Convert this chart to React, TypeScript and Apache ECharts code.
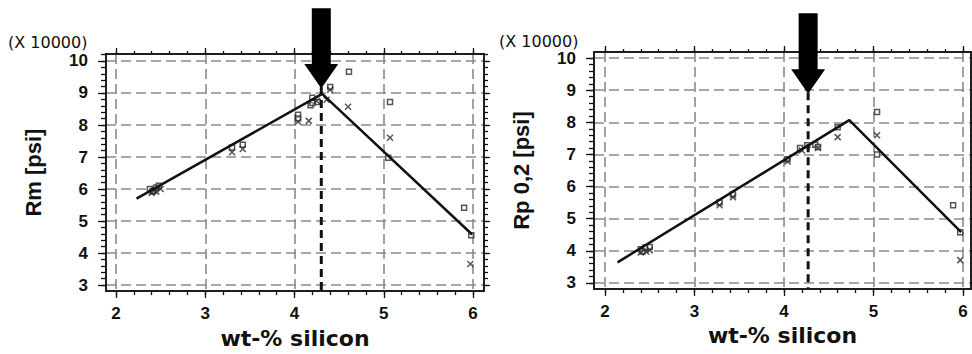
import React, { useEffect, useRef } from "react";
import * as echarts from "echarts";

// Tick values shared by both panels
const X_TICKS = [2, 3, 4, 5, 6];
const Y_TICKS = [3, 4, 5, 6, 7, 8, 9, 10];

// Tensile strength Rm (x 10000 psi) versus silicon content
const RM_SQUARES: [number, number][] = [
  [2.38, 6.0], [2.42, 5.95], [2.45, 6.05], [2.48, 6.1], [2.41, 5.92],
  [3.3, 7.3], [3.42, 7.38], [4.04, 8.32], [4.04, 8.2], [4.18, 8.62],
  [4.2, 8.85], [4.2, 8.69], [4.26, 8.72], [4.4, 9.19], [4.61, 9.66],
  [5.07, 8.72], [5.05, 6.98], [5.9, 5.42], [5.98, 4.56],
];
const RM_CROSSES: [number, number][] = [
  [2.4, 5.88], [2.45, 5.92], [2.5, 6.0], [3.3, 7.15], [3.42, 7.25],
  [4.04, 8.1], [4.16, 8.13], [4.25, 8.75], [4.36, 8.79], [4.4, 9.1],
  [4.6, 8.57], [5.07, 7.6], [5.97, 3.66],
];
const RM_FIT: [number, number][] = [[2.23, 5.7], [4.31, 8.97], [5.99, 4.58]];

// Yield strength Rp 0,2 (x 10000 psi) versus silicon content
const RP_SQUARES: [number, number][] = [
  [2.4, 4.05], [2.45, 4.1], [2.5, 4.12], [2.42, 3.98],
  [3.28, 5.5], [3.43, 5.75], [4.04, 6.85], [4.18, 7.2], [4.26, 7.29],
  [4.35, 7.3], [4.38, 7.23], [4.6, 7.85], [5.04, 8.32], [5.04, 7.0],
  [5.89, 5.42], [5.97, 4.58],
];
const RP_CROSSES: [number, number][] = [
  [2.4, 3.95], [2.46, 3.98], [2.5, 4.02], [3.28, 5.42], [3.43, 5.67],
  [4.04, 6.78], [4.2, 7.12], [4.38, 7.2], [4.6, 7.54], [5.04, 7.6],
  [5.97, 3.71],
];
const RP_FIT: [number, number][] = [[2.14, 3.64], [4.73, 8.07], [5.98, 4.58]];

// Silicon content flagged by the arrow and the dashed marker
const MARKER_SI = [4.3, 4.27];
const ARROW_TIP = [9.19, 8.94];
const ARROW_TOP = [11.65, 11.4];

const Y_TITLES = ["Rm [psi]", "Rp 0,2 [psi]"];
const X_TITLE = "wt-% silicon";
const SCALE_NOTE = "(X 10000)";

const SQUARES = [RM_SQUARES, RP_SQUARES];
const CROSSES = [RM_CROSSES, RP_CROSSES];
const FITS = [RM_FIT, RP_FIT];

const PANELS = [
  { left: 106, top: 54, width: 378, height: 238, xMin: 1.888, xMax: 6.123, yMin: 2.813, yMax: 10.218, noteX: 8, noteY: 34 },
  { left: 594, top: 52, width: 377, height: 237, xMin: 1.877, xMax: 6.09, yMin: 2.81, yMax: 10.19, noteX: 499, noteY: 33 },
];

const INK = "#111";
const GRID_GRAY = "#8a8a8a";
const POINT_GRAY = "#2a2a2a";

function steps(from: number, to: number, step: number): number[] {
  const out: number[] = [];
  const n = Math.round((to - from) / step);
  for (let i = 0; i <= n; i++) out.push(Math.round((from + i * step) * 100) / 100);
  return out;
}

const tickFont = { fontFamily: "Liberation Sans", fontWeight: "bold" as const, fontSize: 17, color: INK };

function buildAxes(g: number, p: (typeof PANELS)[number]) {
  const xMinor = steps(1.8, 6.2, 0.2).filter((v) => v >= p.xMin && v <= p.xMax);
  const yMinor = steps(2.8, 10.4, 0.2).filter((v) => v >= p.yMin && v <= p.yMax);
  const line = { show: true, onZero: false, lineStyle: { color: INK, width: 1.5 } };
  const dashed = { show: true, lineStyle: { type: [10, 5], color: GRID_GRAY, width: 1.6 } };
  const baseX = { gridIndex: g, type: "value" as const, min: p.xMin, max: p.xMax, axisLine: line, splitLine: { show: false }, axisLabel: { show: false } };
  const baseY = { gridIndex: g, type: "value" as const, min: p.yMin, max: p.yMax, axisLine: line, splitLine: { show: false }, axisLabel: { show: false } };
  const tick = (values: number[], length: number) => ({ show: true, customValues: values, length, lineStyle: { color: INK, width: 1.3 } });
  const xAxis = [
    {
      ...baseX, position: "bottom", axisTick: tick(X_TICKS, 7), splitLine: dashed,
      axisLabel: { show: true, customValues: X_TICKS, margin: 14, ...tickFont },
      name: X_TITLE, nameLocation: "middle", nameGap: 34,
      nameTextStyle: { fontFamily: "DejaVu Sans", fontWeight: "bold", fontSize: 22, color: INK },
    },
    { ...baseX, position: "bottom", axisTick: tick(xMinor, 4) },
    { ...baseX, position: "top", axisTick: tick(X_TICKS, 6) },
    { ...baseX, position: "top", axisTick: tick(xMinor, 3) },
  ];
  const yAxis = [
    {
      ...baseY, position: "left", axisTick: tick(Y_TICKS, 8), splitLine: dashed,
      axisLabel: { show: true, customValues: Y_TICKS, margin: 18, ...tickFont },
      name: Y_TITLES[g], nameLocation: "middle", nameGap: 62,
      nameTextStyle: { fontFamily: "Liberation Sans", fontWeight: "bold", fontSize: 22, color: INK },
    },
    { ...baseY, position: "left", axisTick: tick(yMinor, 5) },
    { ...baseY, position: "right", axisTick: tick(Y_TICKS, 6) },
    { ...baseY, position: "right", axisTick: tick(yMinor, 4) },
  ];
  return { xAxis, yAxis };
}

function buildSeries(g: number, p: (typeof PANELS)[number]) {
  const idx = { xAxisIndex: 4 * g, yAxisIndex: 4 * g };
  return [
    {
      type: "scatter", ...idx, data: SQUARES[g], symbol: "rect", symbolSize: 5, z: 4,
      itemStyle: { color: "rgba(255,255,255,0.5)", borderColor: POINT_GRAY, borderWidth: 1.5 },
    },
    {
      type: "scatter", ...idx, data: CROSSES[g], symbol: "path://M0 0L10 10M10 0L0 10", symbolSize: 6, z: 4,
      itemStyle: { color: "transparent", borderColor: POINT_GRAY, borderWidth: 1.5 },
    },
    {
      type: "line", ...idx, data: FITS[g], showSymbol: false, symbol: "none", z: 5,
      lineStyle: { color: INK, width: 2.5 },
    },
    {
      type: "line", ...idx, data: [[MARKER_SI[g], ARROW_TIP[g]], [MARKER_SI[g], p.yMin]], showSymbol: false, symbol: "none", z: 6,
      lineStyle: { color: INK, width: 3, type: [8, 5] },
    },
  ];
}

export default function App() {
  const ref = useRef<HTMLDivElement>(null);

  useEffect(() => {
    if (!ref.current) return;
    const chart = echarts.init(ref.current, null, { renderer: "svg" });
    const xAxis: any[] = [];
    const yAxis: any[] = [];
    const series: any[] = [];
    PANELS.forEach((p, g) => {
      const axes = buildAxes(g, p);
      xAxis.push(...axes.xAxis);
      yAxis.push(...axes.yAxis);
      series.push(...buildSeries(g, p));
    });
    chart.setOption({
      animation: false,
      backgroundColor: "#fff",
      grid: PANELS.map((p) => ({ left: p.left, top: p.top, width: p.width, height: p.height, containLabel: false })),
      xAxis,
      yAxis,
      series,
    });

    // Arrows pointing down at the marked silicon content, anchored to data coordinates
    const graphic: any[] = [];
    PANELS.forEach((p, g) => {
      const finder = { xAxisIndex: 4 * g, yAxisIndex: 4 * g };
      const tip = chart.convertToPixel(finder, [MARKER_SI[g], ARROW_TIP[g]]) as number[];
      const top = chart.convertToPixel(finder, [MARKER_SI[g], ARROW_TOP[g]]) as number[];
      const cx = tip[0];
      const neck = tip[1] - 23;
      graphic.push({
        type: "polygon",
        z: 10,
        shape: {
          points: [
            [cx - 9.5, top[1]], [cx + 9.5, top[1]], [cx + 9.5, neck], [cx + 17, neck],
            [cx + 1, tip[1]], [cx - 1, tip[1]], [cx - 17, neck], [cx - 9.5, neck],
          ],
        },
        style: { fill: "#000" },
      });
      graphic.push({
        type: "text",
        left: p.noteX,
        top: p.noteY,
        style: { text: SCALE_NOTE, font: '16px "DejaVu Sans"', fill: INK },
      });
    });
    chart.setOption({ graphic });

    return () => chart.dispose();
  }, []);

  return <div ref={ref} style={{ position: "absolute", left: 0, top: 0, width: 972, height: 354 }} />;
}
